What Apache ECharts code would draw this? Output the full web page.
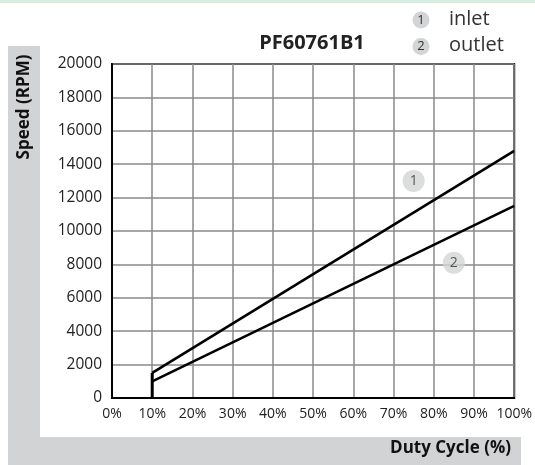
<!DOCTYPE html>
<html>
<head>
<meta charset="utf-8">
<style>
  html, body { margin: 0; padding: 0; background: #ffffff; }
  #chart { width: 535px; height: 465px; }
</style>
<script src="https://cdn.jsdelivr.net/npm/echarts@6/dist/echarts.min.js"></script>
</head>
<body>
<div id="chart"></div>
<script>
// ---- data ----
const chartTitle = 'PF60761B1';
const dutyCycle = [10, 100];            // %
const inletSpeed = [1500, 14800];       // RPM (curve 1)
const outletSpeed = [1000, 11500];      // RPM (curve 2)
const startSegment = [[10, 0], [10, 1500]];
const seriesNames = ['inlet', 'outlet'];
const seriesNumbers = ['1', '2'];
const curveTagX = [75, 85];
const curveTagY = [13000, 8100];
const xTicks = [0, 10, 20, 30, 40, 50, 60, 70, 80, 90, 100];
const yTicks = [0, 2000, 4000, 6000, 8000, 10000, 12000, 14000, 16000, 18000, 20000];
const xAxisName = 'Duty Cycle (%)';
const yAxisName = 'Speed (RPM)';

const FONT = '"Open Sans", "Noto Sans", sans-serif';
const BAND = '#d1d3d4';
const BADGE = '#d3d4d5';

const chart = echarts.init(document.getElementById('chart'), null, { renderer: 'canvas' });

const pair = (xs, ys) => xs.map((x, i) => [x, ys[i]]);

const option = {
  animation: false,
  backgroundColor: '#ffffff',
  grid: {
    left: 112, right: 18, top: 64, bottom: 67,
    show: true, borderColor: '#000', borderWidth: 2, backgroundColor: 'transparent'
  },
  xAxis: {
    type: 'value',
    min: xTicks[0], max: xTicks[xTicks.length - 1], interval: xTicks[1] - xTicks[0],
    axisLine: { show: true, lineStyle: { color: '#000', width: 2 } },
    axisTick: { show: false },
    axisLabel: { formatter: v => v + '%', color: '#222', fontSize: 14, fontFamily: FONT, margin: 9 },
    splitLine: { show: true, lineStyle: { color: '#8a8a8a', width: 1.5 } }
  },
  yAxis: {
    type: 'value',
    min: yTicks[0], max: yTicks[yTicks.length - 1], interval: yTicks[1] - yTicks[0],
    axisLine: { show: true, lineStyle: { color: '#000', width: 2 } },
    axisTick: { show: false },
    axisLabel: { formatter: v => String(v), color: '#222', fontSize: 15.5, fontFamily: FONT, margin: 10 },
    splitLine: { show: true, lineStyle: { color: '#8a8a8a', width: 1.5 } }
  },
  series: [
    {
      name: seriesNames[0], type: 'line', data: pair(dutyCycle, inletSpeed),
      symbol: 'none', lineStyle: { color: '#000', width: 2.6 }, z: 5
    },
    {
      name: seriesNames[1], type: 'line', data: pair(dutyCycle, outletSpeed),
      symbol: 'none', lineStyle: { color: '#000', width: 2.6 }, z: 5
    },
    {
      name: 'start', type: 'line', data: startSegment,
      symbol: 'none', lineStyle: { color: '#000', width: 3 }, z: 5
    },
    {
      name: 'tags', type: 'scatter', z: 6,
      data: pair(curveTagX, curveTagY).map((p, i) => ({ value: p, label: { formatter: seriesNumbers[i] } })),
      symbol: 'circle', symbolSize: 22,
      itemStyle: { color: BADGE },
      label: { show: true, position: 'inside', color: '#333', fontSize: 14, fontFamily: FONT }
    }
  ],
  graphic: [
    { type: 'rect', shape: { x: 0, y: 0, width: 535, height: 3 }, style: { fill: '#d8eee2' }, z: -10 },
    { type: 'rect', shape: { x: 8, y: 46, width: 32, height: 419 }, style: { fill: BAND }, z: -10 },
    { type: 'rect', shape: { x: 8, y: 437, width: 513, height: 28 }, style: { fill: BAND }, z: -10 },
    {
      type: 'text', x: 312, y: 43,
      style: { text: chartTitle, font: 'bold 20px ' + FONT, fill: '#222', textAlign: 'center', textVerticalAlign: 'middle' }
    },
    {
      type: 'text', x: 24.5, y: 107, rotation: Math.PI / 2,
      style: { text: yAxisName, font: 'bold 17px ' + FONT, fill: '#111', textAlign: 'center', textVerticalAlign: 'middle' }
    },
    {
      type: 'text', x: 511, y: 448,
      style: { text: xAxisName, font: 'bold 17px ' + FONT, fill: '#111', textAlign: 'right', textVerticalAlign: 'middle' }
    },
    // legend
    { type: 'circle', shape: { cx: 421, cy: 20, r: 8.5 }, style: { fill: BADGE } },
    { type: 'text', x: 421, y: 20, style: { text: seriesNumbers[0], font: '13px ' + FONT, fill: '#333', textAlign: 'center', textVerticalAlign: 'middle' } },
    { type: 'text', x: 449, y: 19, style: { text: seriesNames[0], font: '20px ' + FONT, fill: '#333', textAlign: 'left', textVerticalAlign: 'middle' } },
    { type: 'circle', shape: { cx: 421, cy: 46.5, r: 8.5 }, style: { fill: BADGE } },
    { type: 'text', x: 421, y: 46.5, style: { text: seriesNumbers[1], font: '13px ' + FONT, fill: '#333', textAlign: 'center', textVerticalAlign: 'middle' } },
    { type: 'text', x: 449, y: 45.5, style: { text: seriesNames[1], font: '20px ' + FONT, fill: '#333', textAlign: 'left', textVerticalAlign: 'middle' } }
  ]
};

chart.setOption(option);
</script>
</body>
</html>
